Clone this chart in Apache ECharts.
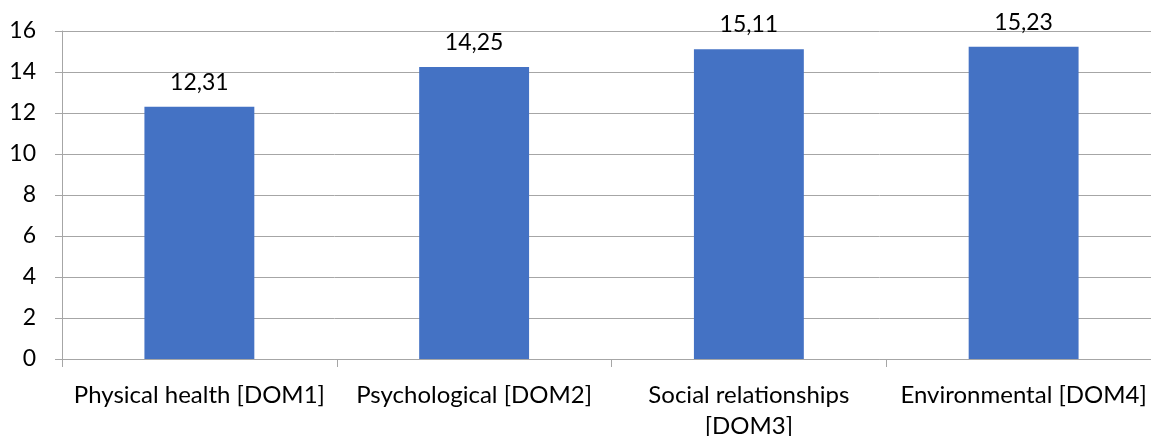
<!DOCTYPE html>
<html><head><meta charset="utf-8">
<script src="https://cdn.jsdelivr.net/npm/echarts@6/dist/echarts.min.js"></script>
<style>html,body{margin:0;padding:0;background:#fff}#c{width:1151px;height:436px}</style>
</head><body><div id="c"></div>
<script>
const categories = ["Physical health [DOM1]", "Psychological [DOM2]", "Social relationships\n[DOM3]", "Environmental [DOM4]"];
const values = [12.31, 14.25, 15.11, 15.23];
const yTicks = [0, 2, 4, 6, 8, 10, 12, 14, 16];

const chart = echarts.init(document.getElementById('c'));
const font = 'Lato, "Open Sans", sans-serif';
chart.setOption({
  animation: false,
  grid: { left: 62, right: -10, top: 31, bottom: 77, containLabel: false, outerBoundsMode: 'none' },
  xAxis: {
    type: 'category', data: categories,
    axisLine: { lineStyle: { color: '#a6a6a6', width: 1 } },
    axisTick: { show: true, length: 8, alignWithLabel: false, lineStyle: { color: '#a6a6a6' } },
    axisLabel: { color: '#000', fontSize: 24, fontFamily: font, margin: 21, lineHeight: 31, interval: 0 }
  },
  yAxis: {
    type: 'value', min: yTicks[0], max: yTicks[yTicks.length - 1], interval: 2,
    axisLine: { show: true, lineStyle: { color: '#a6a6a6', width: 1 } },
    axisTick: { show: true, length: 7, lineStyle: { color: '#a6a6a6' } },
    splitLine: { lineStyle: { color: '#a6a6a6', width: 1 } },
    axisLabel: { color: '#000', fontSize: 23, fontFamily: font, margin: 26 }
  },
  series: [{
    type: 'bar', data: values, barWidth: '40%',
    itemStyle: { color: '#4472C4' },
    label: { show: true, position: 'top', distance: 13, color: '#000', fontSize: 23, fontFamily: font,
      formatter: p => p.value.toFixed(2).replace('.', ',') }
  }]
});
</script></body></html>
